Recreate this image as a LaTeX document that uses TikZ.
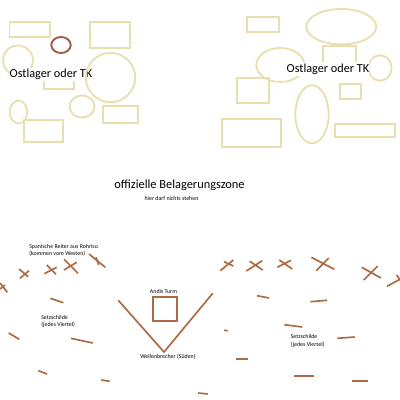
\documentclass[tikz,border=0pt]{standalone}
\usepackage{fontspec}
\setmainfont{Carlito}
\usepackage{xcolor}
\definecolor{lagertan}{HTML}{E9DFAE}
\definecolor{sperrbraun}{HTML}{AC6B45}
\definecolor{ovalbraun}{HTML}{9E5F4A}
\tikzset{
  lager/.style={draw=lagertan,line width=1.3pt},
  sperre/.style={draw=sperrbraun,line width=1.2pt},
  titel/.style={font=\fontsize{8.7}{10}\selectfont,inner sep=0pt,minimum height=9.8pt,fill=white},
  klein/.style={font=\fontsize{4.2}{5.2}\selectfont,align=left,inner sep=0pt}
}
\begin{document}
\begin{tikzpicture}[x=0.25mm,y=-0.25mm]
\useasboundingbox (0,0) rectangle (400,400);
% linkes Lager
\draw[lager] (9.5,22) rectangle (50,37);
\draw[lager] (90,22) rectangle (130,48);
\draw[lager] (18,60.5) circle [x radius=15,y radius=15];
\draw[lager] (44,71) rectangle (74,89);
\node[titel] (ostlinks) at (51,74.5) {Ostlager oder TK};
\draw[lager] (110.5,77.5) circle [x radius=24.7,y radius=24.7];
\draw[lager] (82,106.5) circle [x radius=12.5,y radius=11];
\draw[lager] (103,106) rectangle (138,123);
\draw[lager] (18.5,112) circle [x radius=8.7,y radius=11.5];
\draw[lager] (24,120) rectangle (63,142);
\draw[draw=ovalbraun,line width=1.4pt] (61,45) circle [x radius=9.7,y radius=8];
% rechtes Lager
\draw[lager] (247,16.7) rectangle (279.3,32.3);
\draw[lager] (341.3,26.7) circle [x radius=35,y radius=17.7];
\draw[lager] (323,45.7) rectangle (355.7,68);
\draw[lager] (280.3,65) circle [x radius=24,y radius=17];
\draw[lager] (380,68) circle [x radius=11.7,y radius=12.7];
\node[titel] (ostrechts) at (328,69) {Ostlager oder TK};
\draw[lager] (236.7,77.7) rectangle (269.3,102.7);
\draw[lager] (340,84) rectangle (361,99);
\draw[lager] (312,114.3) circle [x radius=16.7,y radius=29];
\draw[lager] (221.7,119) rectangle (281,146.7);
\draw[lager] (335,124) rectangle (394.7,137);
% Zone
\node[font=\fontsize{8.8}{10}\selectfont] (zone) at (179.5,185) {offizielle Belagerungszone};
\node[klein] (frei) at (171.5,198) {hier darf nichts stehen};
% Reiter links
\draw[sperre] (0,283) -- (7.3,292.3);
\draw[sperre] (0,289) -- (5,285);
\draw[sperre] (19,269) -- (28.3,276.7);
\draw[sperre] (20,278.3) -- (29,270.7);
\draw[sperre] (44.3,273.7) -- (56.7,267.3);
\draw[sperre] (46.7,265) -- (56,274.3);
\draw[sperre] (64,270) -- (76.7,262.3);
\draw[sperre] (64,259.3) -- (78,273.3);
\draw[sperre] (89,254) -- (105.3,267.3);
\draw[sperre] (96,257.3) -- (98.7,265);
% Reiter rechts
\draw[sperre] (220.3,270.7) -- (233.3,260);
\draw[sperre] (224,261.7) -- (233.3,266);
\draw[sperre] (246.3,271) -- (262.3,260.7);
\draw[sperre] (249.7,261.3) -- (262.7,270);
\draw[sperre] (277.3,267.3) -- (291,260.3);
\draw[sperre] (279.3,260) -- (292.3,269);
\draw[sperre] (311.3,257.3) -- (334.3,269.3);
\draw[sperre] (316.3,270.7) -- (328.7,258);
\draw[sperre] (361.7,267.3) -- (381,278);
\draw[sperre] (363.7,280) -- (377.7,266);
\draw[sperre] (387,286.3) -- (400,279.3);
\draw[sperre] (396.7,275) -- (400,280);
% Setzschilde
\draw[sperre] (50.3,298.3) -- (63.3,302.7);
\draw[sperre] (8.7,333) -- (19.3,339.3);
\draw[sperre] (71,338.3) -- (92.7,343);
\draw[sperre] (38.3,370.7) -- (47,374);
\draw[sperre] (101.3,380) -- (109.7,381.3);
\draw[sperre] (198,393) -- (207.7,394);
\draw[sperre] (257,295.7) -- (269,298);
\draw[sperre] (310.3,301.7) -- (327,300.3);
\draw[sperre] (284.3,324.7) -- (302.3,327);
\draw[sperre] (224,330.3) -- (227.7,330.7);
\draw[sperre] (337.3,338.3) -- (354.7,337);
\draw[sperre] (236.3,358.7) -- (248,358.7);
\draw[sperre] (294,375.7) -- (314.3,375.7);
\draw[sperre] (352,380.7) -- (367.7,380.7);
% Turm und Wellenbrecher
\draw[sperre] (118.3,300.3) -- (164,352) -- (212.7,293.3);
\draw[sperre,line width=1.6pt] (152.7,297) rectangle (177,321);
% Beschriftung
\node[klein,anchor=west] (reiter) at (29,250.3) {Spanische Reiter aus Rohriso\\(kommen vom Westen)};
\node[klein,anchor=west] (schildlinks) at (41,321.5) {Setzschilde\\(jedes Viertel)};
\node[klein,anchor=west] (schildrechts) at (290.5,341) {Setzschilde\\(jedes Viertel)};
\node[klein] (turm) at (163.5,291) {Andis Turm};
\node[klein] (wellen) at (168,357) {Wellenbrecher (Süden)};
\end{tikzpicture}
\end{document}
